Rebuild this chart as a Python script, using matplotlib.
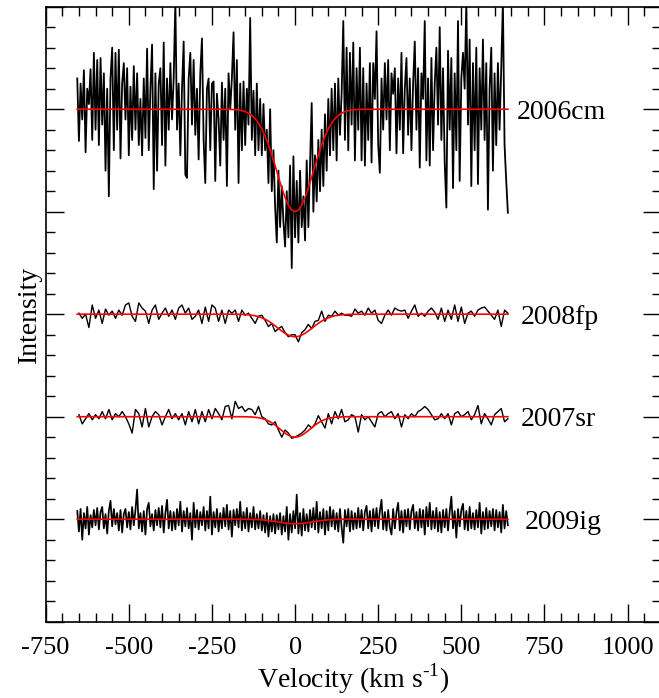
import numpy as np
import matplotlib
matplotlib.use('Agg')
import matplotlib.pyplot as plt
from matplotlib.ticker import MultipleLocator

plt.rcParams['font.family'] = ['Liberation Serif', 'DejaVu Serif']
plt.rcParams['mathtext.fontset'] = 'custom'
plt.rcParams['mathtext.rm'] = 'Liberation Serif'
plt.rcParams['axes.unicode_minus'] = False

# spectra, top to bottom; each sits on its own continuum level
names = ['2006cm', '2008fp', '2007sr', '2009ig']
baselines = [5, 3, 2, 1]
v_ranges = [(-655, 640), (-650, 640), (-650, 640), (-655, 640)]
label_x = [667, 678, 678, 691]
line_w = [1.3, 1.0, 1.0, 1.25]

# flux minus continuum, in hundredths of one major y division
sn2006cm = [
    30, -31, 25, -10, 38, -42, 20, 5, 39, -30,
    55, -20, 48, -35, 50, -15, 35, -60, 20, -85,
    30, 60, -40, 55, -20, 58, -48, 25, 45, -10,
    40, -45, 22, -30, 42, -20, 35, -35, 10, -45,
    30, -28, 59, -40, 20, 63, -78, 35, -60, 25,
    40, -35, 65, -55, 30, -20, 45, -10, 30, 105,
    -20, 25, -45, 20, 66, -64, -67, 30, 55, -15,
    48, -25, 20, -49, 35, 69, -30, -72, 20, 30,
    -40, 25, 27, -70, 15, -10, -55, 26, -30, 20,
    -75, 35, 0, 30, 75, -20, 48, -72, 25, -40,
    27, -35, 20, -15, 89, -30, 18, -45, 25, -40,
    10, -45, 5, -40, -20, -72, 0, -80, -40, -95,
    -130, -60, -115, -75, -110, -134, -80, -125, -55, -155,
    -46, -125, -70, -130, -60, -115, -85, -128, -50, -115,
    -55, 6, -100, -45, -90, -30, -80, -20, -75, -5,
    -60, 10, -45, 20, -40, 25, -50, 30, -25, 15,
    86, -30, 60, -40, 55, -15, 65, -50, 40, -20,
    60, -50, 40, -55, 25, -30, 45, -52, 45, 10,
    76, -35, -62, 30, -20, 45, -10, 48, -40, 35,
    15, 40, -43, 30, -20, 55, -43, 20, 50, -25,
    30, -40, 25, 66, -20, 40, -57, 35, 10, 86,
    -50, 30, -55, 50, -40, 25, 60, -15, 80, -30,
    40, -52, -96, 57, -20, 50, -77, 35, -40, 86,
    -70, 30, 55, 20, 105, -15, 68, -75, 45, -40,
    60, -73, 40, -20, 68, -30, 45, -98, 20, 60,
    -60, 35, -35, 45, -20, 40, 105, -35, -70, -101,
]
sn2008fp = [
    1, -4, 0, -13, 9, -4, 4, -9, 5, -1,
    3, -4, 4, -1, 9, 11, -2, -7, 11, 6,
    3, -9, 4, 9, -5, 1, 6, -2, 4, -5,
    6, 9, 1, 6, -5, -2, 4, -9, 7, -7,
    9, 6, -7, 4, -9, 4, 1, 4, -7, 4,
    -1, 1, -4, -9, -2, -1, -6, -12, -9, -17,
    -14, -12, -18, -22, -20, -20, -27, -18, -15, -10,
    -14, -7, -6, 3, -7, -1, -2, 3, -1, 1,
    -1, -1, -2, 5, 1, 3, -1, 6, 1, 4,
    -6, -9, -1, 4, -1, 6, 4, 3, 4, -4,
    3, 9, -2, 1, -2, 3, 6, 2, -5, 6,
    -7, 4, -5, 9, -7, 7, -9, 1, 3, -2,
    4, 6, 7, 3, -1, -5, 4, -12, 4, 1,
]
sn2007sr = [
    2, -7, -2, 3, -3, 2, -2, 5, -2, 7,
    -3, 3, 0, 5, 0, -7, -16, 7, 3, -10,
    8, -10, 0, 5, 2, -8, 0, 7, -2, 3,
    -3, 3, -8, 5, -5, 7, -7, 5, -5, 7,
    -2, 8, 3, -3, 10, 11, -2, 15, 8, 10,
    5, 8, 7, 2, 10, 0, -2, -7, -8, -5,
    -13, -20, -13, -16, -21, -20, -18, -16, -13, -8,
    -11, -7, 1, -5, -11, 3, -7, 5, -2, 7,
    -5, -3, 2, 0, -15, 2, -3, 0, -5, -10,
    3, 5, 0, 3, 5, -2, 3, -10, 2, -2,
    3, 0, 5, 7, 10, 7, 2, -3, -2, 3,
    -2, 3, -8, 3, 5, 0, 2, 5, -3, 2,
    11, -7, 3, -2, -8, 2, 5, 8, -5, -2,
]
sn2009ig = [
    8, -12, 10, -20, 6, -9, 12, -15, 4, -8,
    9, -6, 11, -10, 7, 12, -9, 5, -14, 8,
    18, -7, 10, -5, 6, -11, 9, -13, 5, 10,
    -8, 7, -10, 12, -6, 9, 29, -9, 6, -12,
    8, -15, 10, 16, -7, 5, -11, 9, -6, 11,
    -8, 13, -13, 6, 19, -9, 8, -11, 7, -10,
    10, -6, 17, -12, 8, -7, 11, -9, 6, -20,
    16, -8, 9, -10, 7, -6, 12, -11, 8, -9,
    22, -15, 7, -8, 10, -12, 6, -9, 11, -7,
    14, -10, 8, -17, 9, -6, 10, -8, 17, -11,
    7, -9, 11, -12, 6, -8, 12, -10, 5, -9,
    8, -11, 4, -13, 6, -17, 3, -12, 5, -14,
    4, -10, 6, -15, 3, -12, 12, -20, 5, -13,
    8, -9, 24, -14, 6, -16, 10, -11, 5, -12,
    9, -8, 11, -10, 17, -13, 7, -9, 10, -15,
    8, -11, 12, -7, 9, -10, 6, -12, 10, -8,
    -23, 9, -7, 10, -12, 8, -10, 6, -9, 11,
    -8, 9, -11, 7, 13, -9, 8, -12, 10, -7,
    11, -9, 8, 19, -10, 7, -11, 9, -8, -15,
    10, -9, 7, 16, -11, 8, -13, 9, -7, 10,
    -10, 8, 14, -9, 7, -11, 10, -8, 9, -15,
    12, -7, 16, -10, 8, -9, 11, -12, 7, -13,
    9, -8, 10, -11, 7, 22, -9, 8, -18, 10,
    -7, 9, 15, -10, 8, -11, 12, -9, 6, -10,
    9, -8, 16, -14, 7, -10, 11, -9, 8, -7,
    10, -11, 9, -8, 7, -13, 14, -9, 8, -6,
]
spectra = [sn2006cm, sn2008fp, sn2007sr, sn2009ig]

# red line fits: absorption depth (hundredths) at |v| = 0, 10, ..., 200 km/s
fit_2006cm = [100, 98.4, 93.6, 86.2, 76.8, 66.2, 55.1, 44.5, 34.7, 26.2, 19.2,
              13.5, 9.3, 6.1, 3.9, 2.4, 1.4, 0.8, 0.5, 0.3, 0.1]
fit_2008fp = [22.0, 21.6, 20.4, 18.6, 16.4, 13.9, 11.3, 8.9, 6.7, 4.9, 3.5,
              2.4, 1.5, 1.0, 0.6, 0.4, 0.2, 0.1, 0.1, 0, 0]
fit_2007sr = [20.0, 19.5, 18.1, 16.0, 13.5, 10.8, 8.2, 6.0, 4.1, 2.7, 1.7,
              1.0, 0.6, 0.3, 0.2, 0.1, 0, 0, 0, 0, 0]
fit_2009ig = [4.5, 4.4, 4.2, 3.8, 3.3, 2.7, 2.2, 1.7, 1.3, 0.9, 0.6,
              0.4, 0.3, 0.2, 0.1, 0, 0, 0, 0, 0, 0]
fits = [fit_2006cm, fit_2008fp, fit_2007sr, fit_2009ig]
fit_v = [-655] + list(range(-200, 201, 10)) + [640]

fig = plt.figure(figsize=(6.59, 6.98), dpi=100)
ax = fig.add_axes([0.0693, 0.1093, 0.9335, 0.8811])

for name, base, (v0, v1), lx, lw, flux, half in zip(names, baselines, v_ranges,
                                                    label_x, line_w, spectra, fits):
    v = np.linspace(v0, v1, len(flux))
    ax.plot(v, base + np.array(flux) / 100.0, color='black', lw=lw, zorder=2)
    prof = [0] + half[::-1] + half[1:] + [0]
    ax.plot(fit_v, base - np.array(prof) / 100.0, color='red', lw=1.2, zorder=3)
    ax.text(lx, base - 0.03, name, fontsize=20, ha='left', va='center')

ax.set_xlim(-750, 1100)
ax.set_ylim(0, 6)
ax.xaxis.set_major_locator(MultipleLocator(250))
ax.xaxis.set_minor_locator(MultipleLocator(50))
ax.yaxis.set_major_locator(MultipleLocator(1))
ax.yaxis.set_minor_locator(MultipleLocator(0.2))
ax.tick_params(which='both', direction='in', top=True, right=True,
               labelleft=False, width=1.0, labelsize=19, pad=11)
ax.tick_params(which='major', length=13)
ax.tick_params(which='minor', length=6.5)
for s in ax.spines.values():
    s.set_linewidth(1.2)

ax.set_xlabel(r'Velocity (km s$^{\text{-1}}$)', fontsize=20, labelpad=2)
ax.set_ylabel('Intensity', fontsize=20, labelpad=3)

fig.savefig('out.png', dpi=100)
